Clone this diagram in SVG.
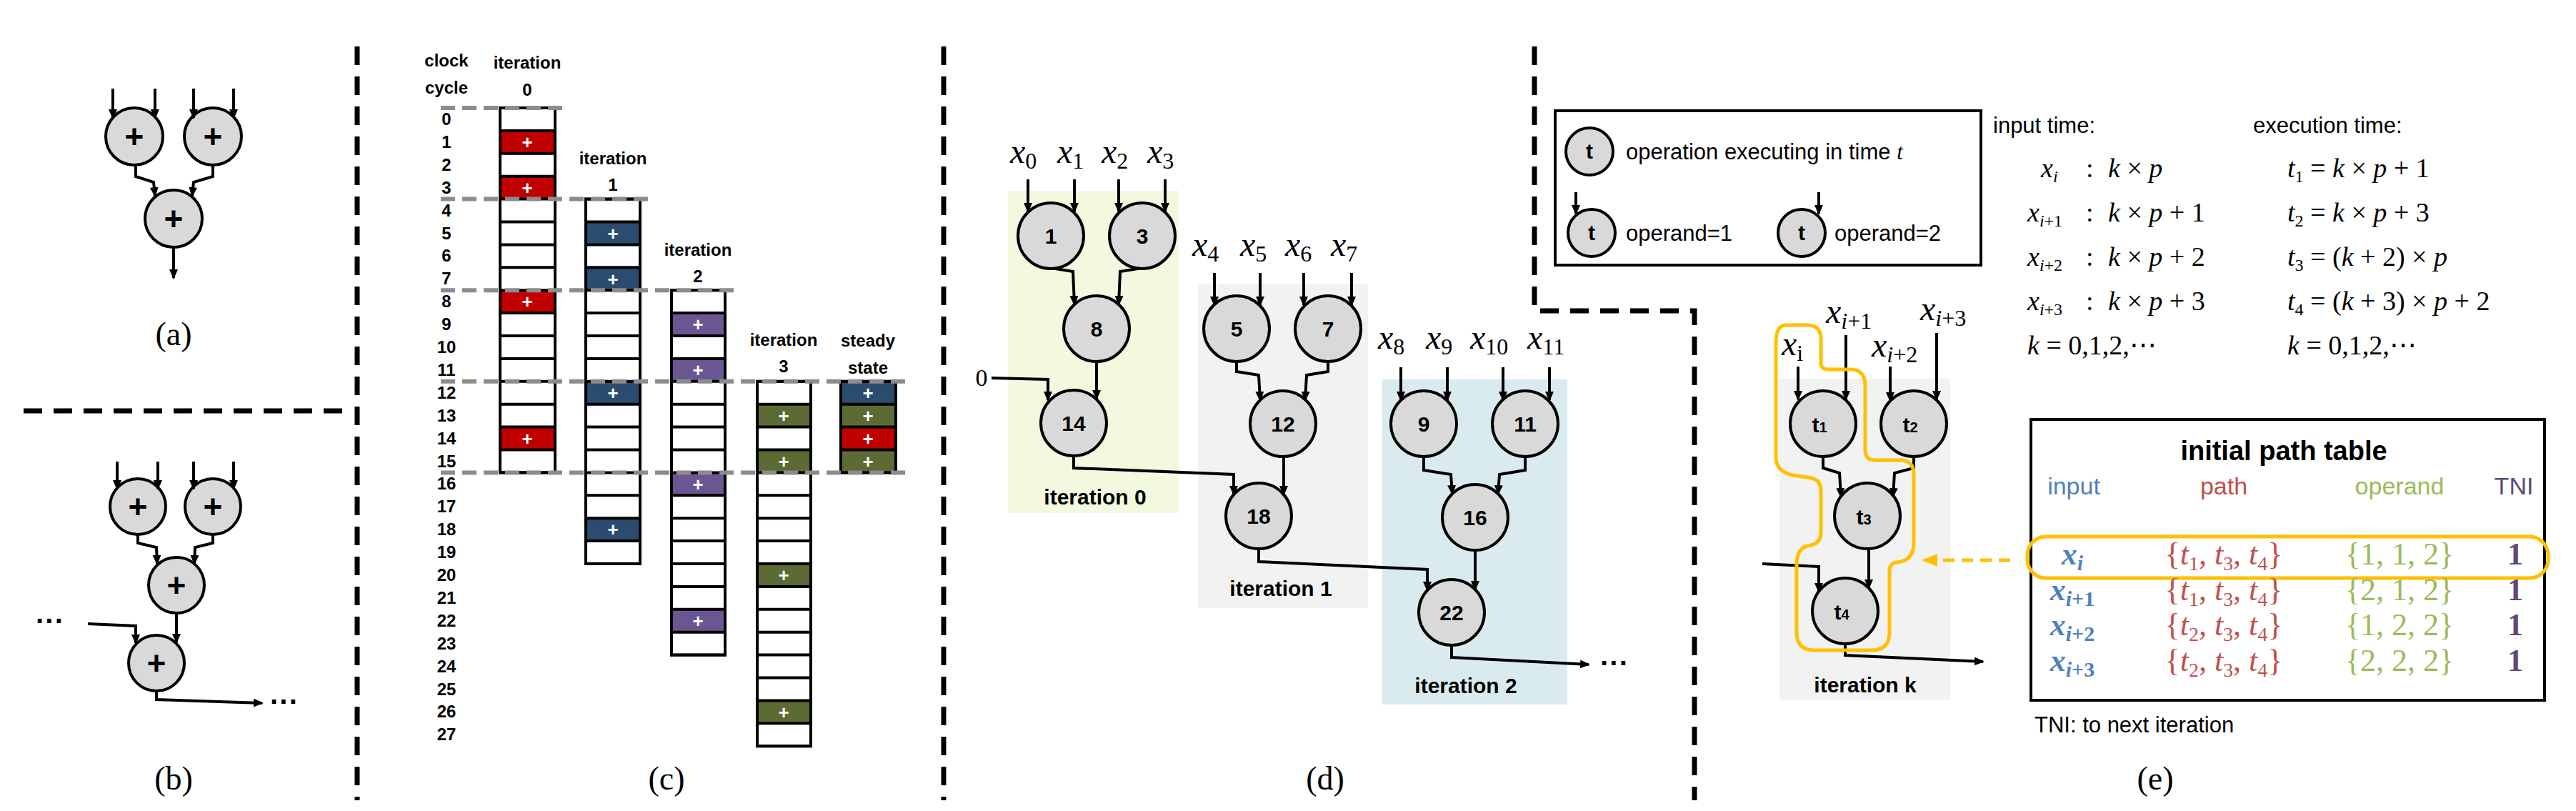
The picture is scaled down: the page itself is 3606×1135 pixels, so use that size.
<svg xmlns="http://www.w3.org/2000/svg" width="3606" height="1135" viewBox="0 0 3606 1135">
<style>
.sans{font-family:"Liberation Sans",Arial,sans-serif}
.ser{font-family:"Liberation Serif","Times New Roman",serif}
.it{font-style:italic}
.nd{fill:#D9D9D9;stroke:#000;stroke-width:4}
.nl{font-family:"Liberation Sans",Arial,sans-serif;font-weight:bold;font-size:30px;text-anchor:middle}
.pl{font-family:"Liberation Sans",Arial,sans-serif;font-weight:bold;font-size:46px;text-anchor:middle}
.e{fill:none;stroke:#000;stroke-width:4;marker-end:url(#ah)}
.ln{fill:none;stroke:#000;stroke-width:4}
.div{fill:none;stroke:#000;stroke-width:7;stroke-dasharray:26 16}
.gd{fill:none;stroke:#8C8C8C;stroke-width:6;stroke-dasharray:20 10}
.col{fill:#fff;stroke:#000;stroke-width:4}
.cl{font-family:"Liberation Sans",Arial,sans-serif;font-weight:bold;font-size:24px;text-anchor:middle}
.wp{font-family:"Liberation Sans",Arial,sans-serif;font-weight:bold;font-size:26px;fill:#fff;text-anchor:middle}
.R{fill:#C00000}.B{fill:#2B4C6F}.P{fill:#6A5693}.G{fill:#5C6B34}
.cap{font-family:"Liberation Serif","Times New Roman",serif;font-size:46px;text-anchor:middle}
.mx{font-family:"Liberation Serif","Times New Roman",serif;font-size:48px}
.sub{font-size:32px;font-style:normal}
.itl{font-family:"Liberation Sans",Arial,sans-serif;font-weight:bold;font-size:30px;text-anchor:middle}
.lg{font-family:"Liberation Sans",Arial,sans-serif;font-size:31px}
.fm{font-family:"Liberation Serif","Times New Roman",serif;font-size:38px}
.tb{font-family:"Liberation Serif","Times New Roman",serif;font-size:44px;text-anchor:middle}
</style>
<defs>
<marker id="ah" markerWidth="14" markerHeight="12" refX="12" refY="6" orient="auto" markerUnits="userSpaceOnUse"><path d="M0,0 L14,6 L0,12 Z" fill="#000"/></marker>
<marker id="ao" markerWidth="22" markerHeight="18" refX="20" refY="9" orient="auto" markerUnits="userSpaceOnUse"><path d="M0,0 L22,9 L0,18 Z" fill="#FFC000"/></marker>
</defs>

<g id="dividers">
<path class="div" d="M500,65 V1120"/>
<path class="div" d="M33,575 H483"/>
<path class="div" d="M1321,65 V1120"/>
<path class="div" d="M2148,65 V435 H2372 V1120"/>
</g>

<g id="a-n1"><circle class="nd" cx="188" cy="191" r="40"/><text class="pl" x="188" y="207">+</text></g>
<g id="a-n2"><circle class="nd" cx="298" cy="191" r="40"/><text class="pl" x="298" y="207">+</text></g>
<g id="a-n3"><circle class="nd" cx="243" cy="306" r="40"/><text class="pl" x="243" y="322">+</text></g>
<g id="b-n1"><circle class="nd" cx="193" cy="709" r="39"/><text class="pl" x="193" y="725">+</text></g>
<g id="b-n2"><circle class="nd" cx="298" cy="709" r="39"/><text class="pl" x="298" y="725">+</text></g>
<g id="b-n3"><circle class="nd" cx="247" cy="819" r="39"/><text class="pl" x="247" y="835">+</text></g>
<g id="b-n4"><circle class="nd" cx="219" cy="928" r="39"/><text class="pl" x="219" y="944">+</text></g>
<g id="ab-connectors">
<path class="e" d="M158,124 V165"/><path class="e" d="M217,124 V165"/><path class="e" d="M271,124 V165"/><path class="e" d="M327,124 V165"/>
<path class="e" d="M190,231 V247 L215,255 L217,274"/><path class="e" d="M298,231 V247 L271,255 L269,274"/>
<path class="e" d="M243,346 V389"/>
<path class="e" d="M164,646 V684"/><path class="e" d="M221,646 V684"/><path class="e" d="M271,646 V684"/><path class="e" d="M327,646 V684"/>
<path class="e" d="M193,748 V760 L219,766 L220,789"/><path class="e" d="M298,748 V760 L273,766 L272,789"/>
<path class="e" d="M247,858 V899"/>
<path class="e" d="M123,873 L190,876 V900"/>
<path class="e" d="M219,967 V979 L367,984"/>
</g>
<g id="ab-text">
<text class="sans" x="50" y="883" font-size="40" font-weight="bold">···</text>
<text class="sans" x="378" y="996" font-size="40" font-weight="bold">···</text>
<text class="cap" x="243" y="483">(a)</text>
<text class="cap" x="243" y="1105">(b)</text>
</g>

<g id="c-cols">
<rect class="col" x="700" y="151" width="77" height="510.4"/>
<rect class="col" x="820" y="278.6" width="76" height="510.4"/>
<rect class="col" x="940" y="406.2" width="75" height="510.4"/>
<rect class="col" x="1060" y="533.8" width="75" height="510.4"/>
<rect class="col" x="1177" y="533.8" width="77" height="127.6"/>
<rect class="R" x="700" y="182.9" width="77" height="31.9"/><rect class="R" x="700" y="246.7" width="77" height="31.9"/><rect class="R" x="700" y="406.2" width="77" height="31.9"/><rect class="R" x="700" y="597.6" width="77" height="31.9"/>
<rect class="B" x="820" y="310.5" width="76" height="31.9"/><rect class="B" x="820" y="374.3" width="76" height="31.9"/><rect class="B" x="820" y="533.8" width="76" height="31.9"/><rect class="B" x="820" y="725.2" width="76" height="31.9"/>
<rect class="P" x="940" y="438.1" width="75" height="31.9"/><rect class="P" x="940" y="501.9" width="75" height="31.9"/><rect class="P" x="940" y="661.4" width="75" height="31.9"/><rect class="P" x="940" y="852.8" width="75" height="31.9"/>
<rect class="G" x="1060" y="565.7" width="75" height="31.9"/><rect class="G" x="1060" y="629.5" width="75" height="31.9"/><rect class="G" x="1060" y="789" width="75" height="31.9"/><rect class="G" x="1060" y="980.4" width="75" height="31.9"/>
<rect class="B" x="1177" y="533.8" width="77" height="31.9"/><rect class="G" x="1177" y="565.7" width="77" height="31.9"/><rect class="R" x="1177" y="597.6" width="77" height="31.9"/><rect class="G" x="1177" y="629.5" width="77" height="31.9"/>
<path class="ln" d="M700,182.9H777M700,214.8H777M700,246.7H777M700,278.6H777M700,310.5H777M700,342.4H777M700,374.3H777M700,406.2H777M700,438.1H777M700,470H777M700,501.9H777M700,533.8H777M700,565.7H777M700,597.6H777M700,629.5H777"/>
<path class="ln" d="M820,310.5H896M820,342.4H896M820,374.3H896M820,406.2H896M820,438.1H896M820,470H896M820,501.9H896M820,533.8H896M820,565.7H896M820,597.6H896M820,629.5H896M820,661.4H896M820,693.3H896M820,725.2H896M820,757.1H896"/>
<path class="ln" d="M940,438.1H1015M940,470H1015M940,501.9H1015M940,533.8H1015M940,565.7H1015M940,597.6H1015M940,629.5H1015M940,661.4H1015M940,693.3H1015M940,725.2H1015M940,757.1H1015M940,789H1015M940,820.9H1015M940,852.8H1015M940,884.7H1015"/>
<path class="ln" d="M1060,565.7H1135M1060,597.6H1135M1060,629.5H1135M1060,661.4H1135M1060,693.3H1135M1060,725.2H1135M1060,757.1H1135M1060,789H1135M1060,820.9H1135M1060,852.8H1135M1060,884.7H1135M1060,916.6H1135M1060,948.5H1135M1060,980.4H1135M1060,1012.3H1135"/>
<path class="ln" d="M1177,565.7H1254M1177,597.6H1254M1177,629.5H1254"/>
<rect x="700" y="151" width="77" height="510.4" fill="none" stroke="#000" stroke-width="4"/>
<rect x="820" y="278.6" width="76" height="510.4" fill="none" stroke="#000" stroke-width="4"/>
<rect x="940" y="406.2" width="75" height="510.4" fill="none" stroke="#000" stroke-width="4"/>
<rect x="1060" y="533.8" width="75" height="510.4" fill="none" stroke="#000" stroke-width="4"/>
<rect x="1177" y="533.8" width="77" height="127.6" fill="none" stroke="#000" stroke-width="4"/>
</g>
<g id="c-plus">
<text class="wp" x="738" y="208">+</text><text class="wp" x="738" y="272">+</text><text class="wp" x="738" y="431">+</text><text class="wp" x="738" y="623">+</text>
<text class="wp" x="858" y="336">+</text><text class="wp" x="858" y="400">+</text><text class="wp" x="858" y="559">+</text><text class="wp" x="858" y="750">+</text>
<text class="wp" x="977" y="463">+</text><text class="wp" x="977" y="527">+</text><text class="wp" x="977" y="687">+</text><text class="wp" x="977" y="878">+</text>
<text class="wp" x="1097" y="591">+</text><text class="wp" x="1097" y="655">+</text><text class="wp" x="1097" y="814">+</text><text class="wp" x="1097" y="1006">+</text>
<text class="wp" x="1215" y="559">+</text><text class="wp" x="1215" y="591">+</text><text class="wp" x="1215" y="623">+</text><text class="wp" x="1215" y="655">+</text>
</g>
<g id="c-grid">
<path class="gd" d="M617,151H787M617,278.6H908M617,406.2H1029M617,533.8H1275M617,661.4H1275"/>
</g>
<g id="c-text">
<text class="cl" x="625" y="93">clock</text><text class="cl" x="625" y="131">cycle</text>
<text class="cl" x="738" y="96">iteration</text><text class="cl" x="738" y="134">0</text>
<text class="cl" x="858" y="230">iteration</text><text class="cl" x="858" y="267">1</text>
<text class="cl" x="977" y="358">iteration</text><text class="cl" x="977" y="395">2</text>
<text class="cl" x="1097" y="484">iteration</text><text class="cl" x="1097" y="521">3</text>
<text class="cl" x="1215" y="485">steady</text><text class="cl" x="1215" y="523">state</text>
<text class="cl" x="625" y="175">0</text><text class="cl" x="625" y="207">1</text><text class="cl" x="625" y="239">2</text><text class="cl" x="625" y="271">3</text>
<text class="cl" x="625" y="303">4</text><text class="cl" x="625" y="335">5</text><text class="cl" x="625" y="366">6</text><text class="cl" x="625" y="398">7</text>
<text class="cl" x="625" y="430">8</text><text class="cl" x="625" y="462">9</text><text class="cl" x="625" y="494">10</text><text class="cl" x="625" y="526">11</text>
<text class="cl" x="625" y="558">12</text><text class="cl" x="625" y="590">13</text><text class="cl" x="625" y="622">14</text><text class="cl" x="625" y="654">15</text>
<text class="cl" x="625" y="685">16</text><text class="cl" x="625" y="717">17</text><text class="cl" x="625" y="749">18</text><text class="cl" x="625" y="781">19</text>
<text class="cl" x="625" y="813">20</text><text class="cl" x="625" y="845">21</text><text class="cl" x="625" y="877">22</text><text class="cl" x="625" y="909">23</text>
<text class="cl" x="625" y="941">24</text><text class="cl" x="625" y="973">25</text><text class="cl" x="625" y="1004">26</text><text class="cl" x="625" y="1036">27</text>
<text class="cap" x="933" y="1105">(c)</text>
</g>

<g id="d-boxes">
<rect x="1411" y="267" width="239" height="451" fill="#F2F9DE"/>
<rect x="1677" y="397" width="238" height="454" fill="#F2F2F2"/>
<rect x="1935" y="531" width="259" height="455" fill="#DAEBEF"/>
<text class="itl" x="1533" y="706">iteration 0</text>
<text class="itl" x="1793" y="834">iteration 1</text>
<text class="itl" x="2052" y="970">iteration 2</text>
</g>
<g id="d-inputs">
<text class="mx" x="1414" y="228"><tspan class="it">x</tspan><tspan class="sub" dy="8">0</tspan></text>
<text class="mx" x="1480" y="228"><tspan class="it">x</tspan><tspan class="sub" dy="8">1</tspan></text>
<text class="mx" x="1542" y="228"><tspan class="it">x</tspan><tspan class="sub" dy="8">2</tspan></text>
<text class="mx" x="1606" y="228"><tspan class="it">x</tspan><tspan class="sub" dy="8">3</tspan></text>
<text class="mx" x="1669" y="358"><tspan class="it">x</tspan><tspan class="sub" dy="8">4</tspan></text>
<text class="mx" x="1736" y="358"><tspan class="it">x</tspan><tspan class="sub" dy="8">5</tspan></text>
<text class="mx" x="1799" y="358"><tspan class="it">x</tspan><tspan class="sub" dy="8">6</tspan></text>
<text class="mx" x="1863" y="358"><tspan class="it">x</tspan><tspan class="sub" dy="8">7</tspan></text>
<text class="mx" x="1929" y="488"><tspan class="it">x</tspan><tspan class="sub" dy="8">8</tspan></text>
<text class="mx" x="1996" y="488"><tspan class="it">x</tspan><tspan class="sub" dy="8">9</tspan></text>
<text class="mx" x="2058" y="488"><tspan class="it">x</tspan><tspan class="sub" dy="8">10</tspan></text>
<text class="mx" x="2138" y="488"><tspan class="it">x</tspan><tspan class="sub" dy="8">11</tspan></text>
<text class="ser" x="1374" y="540" font-size="34" text-anchor="middle">0</text>
</g>
<g id="d-connectors">
<path class="e" d="M1439,251 V296"/><path class="e" d="M1504,251 V296"/><path class="e" d="M1566,251 V296"/><path class="e" d="M1631,251 V296"/>
<path class="e" d="M1700,382 V427"/><path class="e" d="M1764,382 V427"/><path class="e" d="M1825,382 V427"/><path class="e" d="M1892,382 V427"/>
<path class="e" d="M1961,514 V560"/><path class="e" d="M2026,514 V560"/><path class="e" d="M2104,514 V560"/><path class="e" d="M2169,514 V560"/>
<path class="e" d="M1471,376 V375 L1502,380 L1504,426"/>
<path class="e" d="M1599,376 V375 L1568,380 L1566,426"/>
<path class="e" d="M1535,506 V558"/>
<path class="e" d="M1388,529 L1467,531 V560"/>
<path class="e" d="M1503,638 V655 L1727,664 V692"/>
<path class="e" d="M1731,506 V520 L1762,525 L1764,560"/>
<path class="e" d="M1859,506 V520 L1829,525 L1827,560"/>
<path class="e" d="M1797,639 V692"/>
<path class="e" d="M1993,639 V658 L2031,664 L2033,691"/>
<path class="e" d="M2135,639 V658 L2099,664 L2097,691"/>
<path class="e" d="M1762,768 V786 L1998,797 V826"/>
<path class="e" d="M2065,770 V825"/>
<path class="e" d="M2032,903 V920 L2224,930"/>
</g>
<g id="n1"><circle class="nd" cx="1471" cy="330" r="46"/><text class="nl" x="1471" y="341">1</text></g>
<g id="n3"><circle class="nd" cx="1599" cy="330" r="46"/><text class="nl" x="1599" y="341">3</text></g>
<g id="n8"><circle class="nd" cx="1535" cy="460" r="46"/><text class="nl" x="1535" y="471">8</text></g>
<g id="n14"><circle class="nd" cx="1503" cy="592" r="46"/><text class="nl" x="1503" y="603">14</text></g>
<g id="n5"><circle class="nd" cx="1731" cy="460" r="46"/><text class="nl" x="1731" y="471">5</text></g>
<g id="n7"><circle class="nd" cx="1859" cy="460" r="46"/><text class="nl" x="1859" y="471">7</text></g>
<g id="n12"><circle class="nd" cx="1796" cy="593" r="46"/><text class="nl" x="1796" y="604">12</text></g>
<g id="n18"><circle class="nd" cx="1762" cy="722" r="46"/><text class="nl" x="1762" y="733">18</text></g>
<g id="n9"><circle class="nd" cx="1993" cy="593" r="46"/><text class="nl" x="1993" y="604">9</text></g>
<g id="n11"><circle class="nd" cx="2135" cy="593" r="46"/><text class="nl" x="2135" y="604">11</text></g>
<g id="n16"><circle class="nd" cx="2065" cy="724" r="46"/><text class="nl" x="2065" y="735">16</text></g>
<g id="n22"><circle class="nd" cx="2032" cy="857" r="46"/><text class="nl" x="2032" y="868">22</text></g>
<text class="sans" x="2240" y="942" font-size="40" font-weight="bold">···</text>
<text class="cap" x="1855" y="1105">(d)</text>

<g id="legend">
<rect x="2177" y="155" width="596" height="216" fill="none" stroke="#000" stroke-width="4"/>
<circle class="nd" cx="2225" cy="212" r="33"/><text class="nl" x="2225" y="222" font-size="26">t</text>
<text class="lg" x="2276" y="223">operation executing in time <tspan class="ser it">t</tspan></text>
<path class="e" d="M2206,269 V299"/>
<circle class="nd" cx="2228" cy="326" r="33"/><text class="nl" x="2228" y="336" font-size="26">t</text>
<text class="lg" x="2276" y="337">operand=1</text>
<path class="e" d="M2546,269 V299"/>
<circle class="nd" cx="2522" cy="326" r="33"/><text class="nl" x="2522" y="336" font-size="26">t</text>
<text class="lg" x="2568" y="337">operand=2</text>
</g>
<g id="formulas">
<text class="lg" x="2790" y="186">input time:</text>
<text class="lg" x="3154" y="186">execution time:</text>
<text class="fm" x="2857" y="248"><tspan class="it">x</tspan><tspan font-size="24" dy="7" class="it">i</tspan></text>
<text class="fm" x="2838" y="310"><tspan class="it">x</tspan><tspan font-size="24" dy="7"><tspan class="it">i</tspan>+1</tspan></text>
<text class="fm" x="2838" y="372"><tspan class="it">x</tspan><tspan font-size="24" dy="7"><tspan class="it">i</tspan>+2</tspan></text>
<text class="fm" x="2838" y="434"><tspan class="it">x</tspan><tspan font-size="24" dy="7"><tspan class="it">i</tspan>+3</tspan></text>
<text class="fm" x="2920" y="248">:</text><text class="fm" x="2920" y="310">:</text><text class="fm" x="2920" y="372">:</text><text class="fm" x="2920" y="434">:</text>
<text class="fm" x="2951" y="248"><tspan class="it">k</tspan> × <tspan class="it">p</tspan></text>
<text class="fm" x="2951" y="310"><tspan class="it">k</tspan> × <tspan class="it">p</tspan> + 1</text>
<text class="fm" x="2951" y="372"><tspan class="it">k</tspan> × <tspan class="it">p</tspan> + 2</text>
<text class="fm" x="2951" y="434"><tspan class="it">k</tspan> × <tspan class="it">p</tspan> + 3</text>
<text class="fm" x="2838" y="496"><tspan class="it">k</tspan> = 0,1,2,⋯</text>
<text class="fm" x="3202" y="248"><tspan class="it">t</tspan><tspan font-size="24" dy="7">1</tspan><tspan dy="-7"> = </tspan><tspan class="it">k</tspan> × <tspan class="it">p</tspan> + 1</text>
<text class="fm" x="3202" y="310"><tspan class="it">t</tspan><tspan font-size="24" dy="7">2</tspan><tspan dy="-7"> = </tspan><tspan class="it">k</tspan> × <tspan class="it">p</tspan> + 3</text>
<text class="fm" x="3202" y="372"><tspan class="it">t</tspan><tspan font-size="24" dy="7">3</tspan><tspan dy="-7"> = (</tspan><tspan class="it">k</tspan> + 2) × <tspan class="it">p</tspan></text>
<text class="fm" x="3202" y="434"><tspan class="it">t</tspan><tspan font-size="24" dy="7">4</tspan><tspan dy="-7"> = (</tspan><tspan class="it">k</tspan> + 3) × <tspan class="it">p</tspan> + 2</text>
<text class="fm" x="3202" y="496"><tspan class="it">k</tspan> = 0,1,2,⋯</text>
</g>
<g id="iterk">
<rect x="2491" y="530" width="239" height="449" fill="#F2F2F2"/>
<text class="itl" x="2611" y="969">iteration k</text>
<text class="mx" x="2494" y="497"><tspan class="it">x</tspan><tspan class="sub it" dy="8">i</tspan></text>
<text class="mx" x="2556" y="452"><tspan class="it">x</tspan><tspan class="sub" dy="8"><tspan class="it">i</tspan>+1</tspan></text>
<text class="mx" x="2620" y="499"><tspan class="it">x</tspan><tspan class="sub" dy="8"><tspan class="it">i</tspan>+2</tspan></text>
<text class="mx" x="2688" y="448"><tspan class="it">x</tspan><tspan class="sub" dy="8"><tspan class="it">i</tspan>+3</tspan></text>
</g>
<g id="e-connectors">
<path class="e" d="M2517,513 V559"/><path class="e" d="M2584,469 V559"/><path class="e" d="M2646,513 V561"/><path class="e" d="M2711,466 V559"/>
<path class="e" d="M2552,639 V655 L2575,662 L2577,695"/>
<path class="e" d="M2679,639 V655 L2652,662 L2650,695"/>
<path class="e" d="M2616,768 V823"/>
<path class="e" d="M2467,789 L2546,793 V828"/>
<path class="e" d="M2583,901 V917 L2776,926"/>
<path d="M2814,784 H2692" fill="none" stroke="#FFC000" stroke-width="5" stroke-dasharray="16 10" marker-end="url(#ao)"/>
</g>
<g id="t1"><circle class="nd" cx="2552" cy="593" r="46"/><text class="nl" x="2547" y="605" font-size="34">t<tspan font-size="20">1</tspan></text></g>
<g id="t2"><circle class="nd" cx="2679" cy="593" r="46"/><text class="nl" x="2674" y="605" font-size="34">t<tspan font-size="20">2</tspan></text></g>
<g id="t3"><circle class="nd" cx="2614" cy="722" r="46"/><text class="nl" x="2609" y="734" font-size="34">t<tspan font-size="20">3</tspan></text></g>
<g id="t4"><circle class="nd" cx="2583" cy="855" r="46"/><text class="nl" x="2578" y="867" font-size="34">t<tspan font-size="20">4</tspan></text></g>
<path id="path-outline" d="M2500,455 L2530,455 Q2549,455 2549,474 L2549,509 Q2549,517 2560,517 L2590,517 Q2611,517 2611,540 L2611,630 Q2611,644 2625,644 L2660,644 Q2679,644 2679,664 L2679,760 Q2679,785 2655,787 Q2645,788 2645,800 L2645,885 Q2645,910 2620,910 L2540,910 Q2515,910 2515,885 L2515,790 Q2515,765 2535,763 Q2549,760 2549,745 L2549,685 Q2549,670 2530,668 L2510,665 Q2486,660 2486,640 L2486,480 Q2486,455 2500,455 Z" fill="none" stroke="#FFC000" stroke-width="5"/>
<g id="table">
<rect x="2843" y="587" width="719" height="393" fill="none" stroke="#000" stroke-width="4"/>
<text class="sans" x="3197" y="644" font-size="38" font-weight="bold" text-anchor="middle">initial path table</text>
<text class="sans" x="2903" y="692" font-size="34" text-anchor="middle" fill="#4F81BD">input</text>
<text class="sans" x="3113" y="692" font-size="34" text-anchor="middle" fill="#C0504D">path</text>
<text class="sans" x="3359" y="692" font-size="34" text-anchor="middle" fill="#9BBB59">operand</text>
<text class="sans" x="3519" y="692" font-size="34" text-anchor="middle" fill="#5F497A">TNI</text>
<rect x="2838" y="751" width="729" height="58" rx="26" fill="none" stroke="#FFC000" stroke-width="5"/>
<g fill="#4F81BD" font-weight="bold">
<text class="tb" x="2901" y="790"><tspan class="it">x</tspan><tspan font-size="30" dy="8" class="it">i</tspan></text>
<text class="tb" x="2901" y="840"><tspan class="it">x</tspan><tspan font-size="30" dy="8"><tspan class="it">i</tspan>+1</tspan></text>
<text class="tb" x="2901" y="889"><tspan class="it">x</tspan><tspan font-size="30" dy="8"><tspan class="it">i</tspan>+2</tspan></text>
<text class="tb" x="2901" y="939"><tspan class="it">x</tspan><tspan font-size="30" dy="8"><tspan class="it">i</tspan>+3</tspan></text>
</g>
<g fill="#C0504D">
<text class="tb" x="3113" y="790">{<tspan class="it">t</tspan><tspan font-size="28" dy="8">1</tspan><tspan dy="-8">,  </tspan><tspan class="it">t</tspan><tspan font-size="28" dy="8">3</tspan><tspan dy="-8">,  </tspan><tspan class="it">t</tspan><tspan font-size="28" dy="8">4</tspan><tspan dy="-8">}</tspan></text>
<text class="tb" x="3113" y="840">{<tspan class="it">t</tspan><tspan font-size="28" dy="8">1</tspan><tspan dy="-8">,  </tspan><tspan class="it">t</tspan><tspan font-size="28" dy="8">3</tspan><tspan dy="-8">,  </tspan><tspan class="it">t</tspan><tspan font-size="28" dy="8">4</tspan><tspan dy="-8">}</tspan></text>
<text class="tb" x="3113" y="889">{<tspan class="it">t</tspan><tspan font-size="28" dy="8">2</tspan><tspan dy="-8">,  </tspan><tspan class="it">t</tspan><tspan font-size="28" dy="8">3</tspan><tspan dy="-8">,  </tspan><tspan class="it">t</tspan><tspan font-size="28" dy="8">4</tspan><tspan dy="-8">}</tspan></text>
<text class="tb" x="3113" y="939">{<tspan class="it">t</tspan><tspan font-size="28" dy="8">2</tspan><tspan dy="-8">,  </tspan><tspan class="it">t</tspan><tspan font-size="28" dy="8">3</tspan><tspan dy="-8">,  </tspan><tspan class="it">t</tspan><tspan font-size="28" dy="8">4</tspan><tspan dy="-8">}</tspan></text>
</g>
<g fill="#9BBB59">
<text class="tb" x="3359" y="790">{1, 1, 2}</text>
<text class="tb" x="3359" y="840">{2, 1, 2}</text>
<text class="tb" x="3359" y="889">{1, 2, 2}</text>
<text class="tb" x="3359" y="939">{2, 2, 2}</text>
</g>
<g fill="#5F497A" font-weight="bold">
<text class="tb" x="3521" y="790">1</text><text class="tb" x="3521" y="840">1</text><text class="tb" x="3521" y="889">1</text><text class="tb" x="3521" y="939">1</text>
</g>
<text class="lg" x="2848" y="1025">TNI: to next iteration</text>
</g>
<text class="cap" x="3017" y="1105">(e)</text>
</svg>
